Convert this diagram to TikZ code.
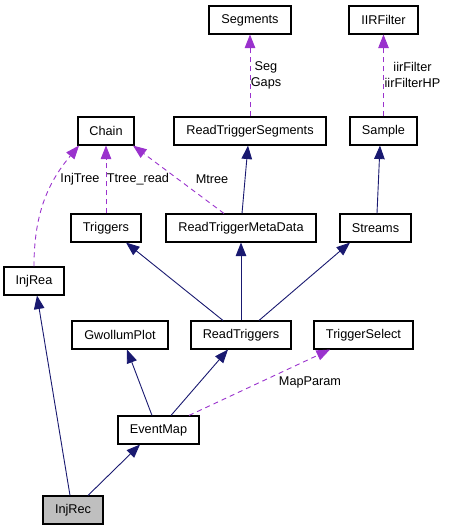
\documentclass[tikz,border=0pt]{standalone}
\usepackage{fontspec}
\setmainfont{Liberation Sans}
\usetikzlibrary{arrows.meta}
\definecolor{midnight}{HTML}{191970}
\definecolor{orchid}{HTML}{9A32CD}
\definecolor{curgray}{HTML}{BFBFBF}
\begin{document}
\begin{tikzpicture}[x=1pt, y=-1pt,
	font=\fontsize{12.7}{16}\selectfont,
	cls/.style={draw=black, line width=1.1pt, inner sep=0pt, minimum height=28pt},
	inherit/.style={draw=midnight, line width=0.9pt, -{Triangle[length=13.5pt,width=10.5pt,fill=midnight]}},
	usage/.style={draw=orchid, line width=0.9pt, dash pattern=on 5pt off 4pt, -{Triangle[length=13.5pt,width=10.5pt,fill=orchid]}},
	lbl/.style={inner sep=0pt, align=center}]
	\useasboundingbox (0,0) rectangle (448,531);
	
	% Klassen
	\node [cls, minimum width=82pt] (seg) at (250, 20) {Segments};
	\node [cls, minimum width=69pt] (iir) at (383.5, 20) {IIRFilter};
	\node [cls, minimum width=56pt] (chain) at (106, 131) {Chain};
	\node [cls, minimum width=152pt] (rts) at (250, 131) {ReadTriggerSegments};
	\node [cls, minimum width=67pt] (sample) at (383.5, 131) {Sample};
	\node [cls, minimum width=70pt] (triggers) at (106, 228) {Triggers};
	\node [cls, minimum width=150pt] (rtmd) at (241, 228) {ReadTriggerMetaData};
	\node [cls, minimum width=71pt] (streams) at (375.5, 228) {Streams};
	\node [cls, minimum width=60pt] (injrea) at (34, 281) {InjRea};
	\node [cls, minimum width=96pt] (gplot) at (120, 335) {GwollumPlot};
	\node [cls, minimum width=100pt] (rt) at (241, 335) {ReadTriggers};
	\node [cls, minimum width=99pt] (tsel) at (363.5, 335) {TriggerSelect};
	\node [cls, minimum width=81pt] (emap) at (158.5, 430) {EventMap};
	\node [cls, minimum width=60pt, fill=curgray] (injrec) at (73, 510) {InjRec};
	
	% Vererbung
	\draw [inherit] ([xshift=1pt]rtmd.north) -- ([xshift=-2pt]rts.south);
	\draw [inherit] ([xshift=1.5pt]streams.north) -- ([xshift=-3.5pt]sample.south);
	\draw [inherit] ([xshift=-18pt]rt.north) -- ([xshift=20pt]triggers.south);
	\draw [inherit] (rt.north) -- (rtmd.south);
	\draw [inherit] ([xshift=18pt]rt.north) -- ([xshift=-25.5pt]streams.south);
	\draw [inherit] ([xshift=-3pt]injrec.north) -- ([xshift=3pt]injrea.south);
	\draw [inherit] ([xshift=-6.5pt]emap.north) -- ([xshift=7pt]gplot.south);
	\draw [inherit] ([xshift=12.5pt]emap.north) -- ([xshift=-13pt]rt.south);
	\draw [inherit] ([xshift=15pt]injrec.north) -- ([xshift=-18.5pt]emap.south);
	
	% Benutzung
	\draw [usage] (rts.north) -- (seg.south);
	\draw [usage] (sample.north) -- (iir.south);
	\draw [usage] (injrea.north) to[out=90, in=-130] ([xshift=-27pt]chain.south);
	\draw [usage] (triggers.north) -- (chain.south);
	\draw [usage] ([xshift=-17pt]rtmd.north) -- ([xshift=27pt]chain.south);
	\draw [usage] ([xshift=30.5pt]emap.north) -- ([xshift=-33.5pt]tsel.south);
	
	% Beschriftungen
	\node [lbl] (lseg) at (266, 75) {Seg\\Gaps};
	\node [lbl] (liir) at (412.5, 75) {iirFilter\\iirFilterHP};
	\node [lbl] (linj) at (80, 179) {InjTree};
	\node [lbl] (lttree) at (138, 179) {Ttree\_read};
	\node [lbl] (lmtree) at (212, 179) {Mtree};
	\node [lbl] (lmap) at (310, 382) {MapParam};
\end{tikzpicture}
\end{document}
